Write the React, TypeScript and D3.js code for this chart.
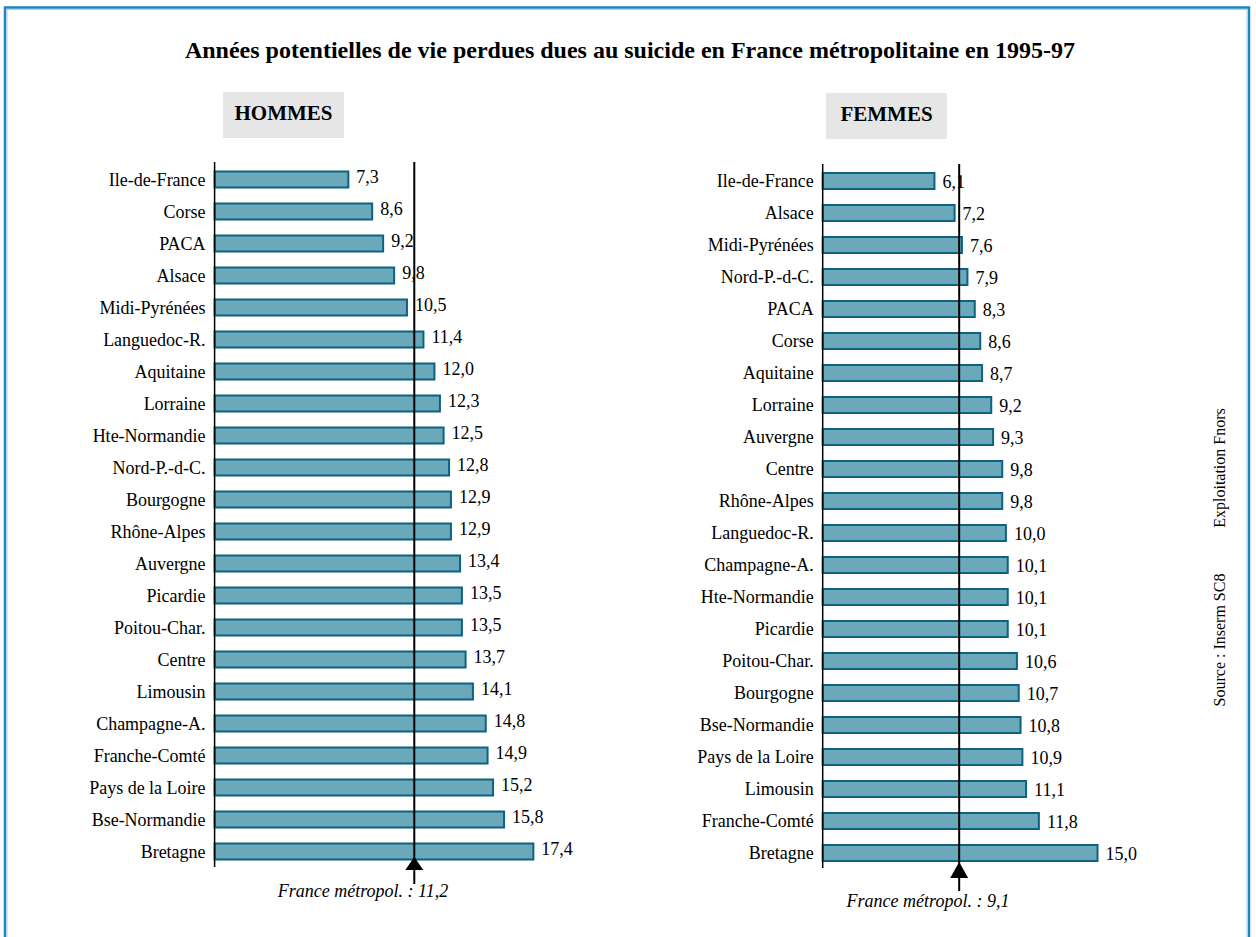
import React, { useEffect, useRef } from "react";
import * as d3 from "d3";

// data
const hommesRegions = [
  "Ile-de-France", "Corse", "PACA", "Alsace", "Midi-Pyrénées", "Languedoc-R.",
  "Aquitaine", "Lorraine", "Hte-Normandie", "Nord-P.-d-C.", "Bourgogne",
  "Rhône-Alpes", "Auvergne", "Picardie", "Poitou-Char.", "Centre", "Limousin",
  "Champagne-A.", "Franche-Comté", "Pays de la Loire", "Bse-Normandie", "Bretagne",
];
const hommesValues = [
  7.3, 8.6, 9.2, 9.8, 10.5, 11.4, 12.0, 12.3, 12.5, 12.8, 12.9,
  12.9, 13.4, 13.5, 13.5, 13.7, 14.1, 14.8, 14.9, 15.2, 15.8, 17.4,
];
const femmesRegions = [
  "Ile-de-France", "Alsace", "Midi-Pyrénées", "Nord-P.-d-C.", "PACA", "Corse",
  "Aquitaine", "Lorraine", "Auvergne", "Centre", "Rhône-Alpes", "Languedoc-R.",
  "Champagne-A.", "Hte-Normandie", "Picardie", "Poitou-Char.", "Bourgogne",
  "Bse-Normandie", "Pays de la Loire", "Limousin", "Franche-Comté", "Bretagne",
];
const femmesValues = [
  6.1, 7.2, 7.6, 7.9, 8.3, 8.6, 8.7, 9.2, 9.3, 9.8, 9.8,
  10.0, 10.1, 10.1, 10.1, 10.6, 10.7, 10.8, 10.9, 11.1, 11.8, 15.0,
];
// national averages (label) and where the marker line sits in the picture
const panelTitles = ["HOMMES", "FEMMES"];
const franceValues = [11.2, 9.1];
const franceLinePos = [10.9, 7.45];

const title = "Années potentielles de vie perdues dues au suicide en France métropolitaine en 1995-97";
const sourceText = "Source : Inserm SC8";
const exploitText = "Exploitation Fnors";

const W = 1256;
const H = 937;
const FONT = "'Liberation Serif', 'Times New Roman', serif";
const BAR_FILL = "#6ba8b9";
const BAR_STROKE = "#0c6282";

const fmt = (v: number) => d3.format(".1f")(v).replace(".", ",");

const panels = [
  {
    regions: hommesRegions, values: hommesValues,
    x0: 214.6, top: 163.5, axisTop: 162, axisBottom: 867,
    lineTop: 162, tip: 857, base: 870, stemEnd: 884,
    noteX: 363, noteY: 897, valDy: -3,
    box: { x: 223, y: 92, w: 121, h: 46 },
  },
  {
    regions: femmesRegions, values: femmesValues,
    x0: 822.7, top: 165, axisTop: 164, axisBottom: 868,
    lineTop: 164, tip: 862, base: 878, stemEnd: 891,
    noteX: 928, noteY: 907, valDy: 1,
    box: { x: 826, y: 93, w: 121, h: 46 },
  },
];

export default function App() {
  const svgRef = useRef<SVGSVGElement | null>(null);

  useEffect(() => {
    if (!svgRef.current) return;
    const svg = d3.select(svgRef.current);
    svg.selectAll("*").remove();

    // frame
    svg.append("rect")
      .attr("x", 5).attr("y", 7.5).attr("width", 1244).attr("height", 1000)
      .attr("fill", "none").attr("stroke", "#1d86c4").attr("stroke-width", 2.5);
    svg.append("rect")
      .attr("x", 7).attr("y", 9.5).attr("width", 1240).attr("height", 1000)
      .attr("fill", "none").attr("stroke", "#a9d0e6").attr("stroke-width", 1);

    svg.append("text")
      .attr("x", 630).attr("y", 58)
      .attr("text-anchor", "middle")
      .attr("font-family", FONT).attr("font-weight", "bold").attr("font-size", 24)
      .text(title);

    const x = d3.scaleLinear().domain([0, 20]).range([0, 366.4]);

    panels.forEach((p, pi) => {
      const g = svg.append("g");
      const y = d3.scaleBand<string>()
        .domain(p.regions)
        .range([p.top, p.top + 704])
        .paddingInner(0.5)
        .paddingOuter(0.25);

      // header box
      g.append("rect")
        .attr("x", p.box.x).attr("y", p.box.y)
        .attr("width", p.box.w).attr("height", p.box.h)
        .attr("fill", "#e6e6e6");
      g.append("text")
        .attr("x", p.box.x + p.box.w / 2).attr("y", p.box.y + 28)
        .attr("text-anchor", "middle")
        .attr("font-family", FONT).attr("font-weight", "bold").attr("font-size", 21)
        .text(panelTitles[pi]);

      // bars
      g.selectAll("rect.bar")
        .data(p.values)
        .join("rect")
        .attr("class", "bar")
        .attr("x", p.x0)
        .attr("y", (_, i) => y(p.regions[i]) as number)
        .attr("width", (d) => x(d))
        .attr("height", y.bandwidth())
        .attr("fill", BAR_FILL)
        .attr("stroke", BAR_STROKE)
        .attr("stroke-width", 2);

      // category labels
      g.selectAll("text.cat")
        .data(p.regions)
        .join("text")
        .attr("class", "cat")
        .attr("x", p.x0 - 9)
        .attr("y", (d) => (y(d) as number) + y.bandwidth() / 2)
        .attr("dy", "0.35em")
        .attr("text-anchor", "end")
        .attr("font-family", FONT).attr("font-size", 18)
        .text((d) => d);

      // value labels
      g.selectAll("text.val")
        .data(p.values)
        .join("text")
        .attr("class", "val")
        .attr("x", (d) => p.x0 + x(d) + 8)
        .attr("y", (_, i) => (y(p.regions[i]) as number) + y.bandwidth() / 2 + p.valDy)
        .attr("dy", "0.35em")
        .attr("font-family", FONT).attr("font-size", 18)
        .text((d) => fmt(d));

      // axis line
      g.append("line")
        .attr("x1", p.x0).attr("x2", p.x0)
        .attr("y1", p.axisTop).attr("y2", p.axisBottom)
        .attr("stroke", "#000").attr("stroke-width", 1.5);

      // France reference line + arrow
      const lx = p.x0 + x(franceLinePos[pi]);
      g.append("line")
        .attr("x1", lx).attr("x2", lx)
        .attr("y1", p.lineTop).attr("y2", p.stemEnd)
        .attr("stroke", "#000").attr("stroke-width", 2);
      g.append("path")
        .attr("d", `M${lx},${p.tip} L${lx - 9},${p.base} L${lx + 9},${p.base} Z`)
        .attr("fill", "#000");
      g.append("text")
        .attr("x", p.noteX).attr("y", p.noteY)
        .attr("text-anchor", "middle")
        .attr("font-family", FONT).attr("font-style", "italic").attr("font-size", 18)
        .text(`France métropol. : ${fmt(franceValues[pi])}`);
    });

    // vertical source notes
    svg.append("text")
      .attr("transform", "translate(1225,468) rotate(-90)")
      .attr("text-anchor", "middle")
      .attr("font-family", FONT).attr("font-size", 16)
      .text(exploitText);
    svg.append("text")
      .attr("transform", "translate(1225,640) rotate(-90)")
      .attr("text-anchor", "middle")
      .attr("font-family", FONT).attr("font-size", 16)
      .text(sourceText);
  }, []);

  return (
    <svg
      ref={svgRef}
      width={W}
      height={H}
      style={{ position: "absolute", left: 0, top: 0, background: "#fff" }}
    />
  );
}
